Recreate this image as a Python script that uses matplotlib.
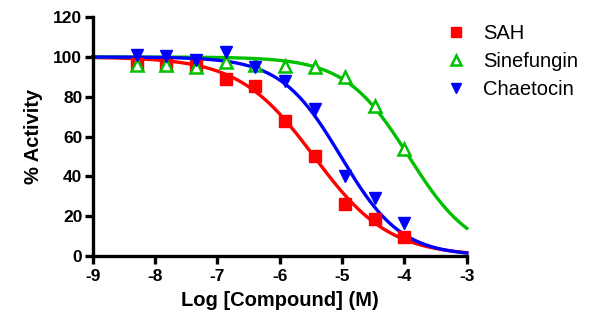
import numpy as np
import matplotlib
matplotlib.use("Agg")
import matplotlib.pyplot as plt

plt.rcParams['font.family'] = ['Liberation Sans', 'DejaVu Sans']

# Data (log molar concentrations, % activity)
log_conc = [-8.29, -7.82, -7.34, -6.86, -6.39, -5.91, -5.43, -4.95, -4.48, -4.00]
sah = [96.5, 96.0, 95.5, 88.9, 85.5, 67.8, 50.2, 26.0, 18.5, 9.8]
sinefungin = [96.0, 96.0, 95.0, 97.6, 96.0, 95.6, 95.0, 89.7, 75.4, 53.9]
chaetocin = [101.0, 100.7, 98.6, 102.7, 94.8, 88.0, 74.0, 40.0, 29.0, 16.5]

# Fitted 4-parameter logistic parameters: (bottom, top, logIC50, hill)
fit_sah = (0.0, 100.0, -5.45, 0.72)
fit_sine = (0.0, 100.0, -3.93, 0.85)
fit_chae = (0.0, 100.0, -5.02, 0.90)

series_names = ["SAH", "Sinefungin", "Chaetocin"]
xticks = [-9, -8, -7, -6, -5, -4, -3]
yticks = [0, 20, 40, 60, 80, 100, 120]


def logistic(x, p):
    b, t, ic, h = p
    return b + (t - b) / (1 + 10 ** ((x - ic) * h))


fig = plt.figure(figsize=(6, 3.3), dpi=100)
ax = fig.add_axes([0.1545, 0.2242, 0.6235, 0.7238])

xs = np.linspace(-9, -3, 400)
colors = ['#ff0000', '#00c000', '#0000ff']
fits = [fit_sah, fit_sine, fit_chae]
data = [sah, sinefungin, chaetocin]
markers = ['s', '^', 'v']
handles = []
for name, col, p, d, m in zip(series_names, colors, fits, data, markers):
    ax.plot(xs, logistic(xs, p), color=col, lw=2.4, zorder=2, clip_on=False)
    if m == '^':
        h = ax.plot(log_conc, d, linestyle='none', marker=m, ms=8, mfc='white',
                    mec=col, mew=1.8, zorder=3, label=name, clip_on=False)[0]
    else:
        h = ax.plot(log_conc, d, linestyle='none', marker=m, ms=8, color=col,
                    mec=col, zorder=3, label=name, clip_on=False)[0]
    handles.append(h)

ax.set_xlim(-9, -3)
ax.set_ylim(0, 120)
ax.set_xticks(xticks)
ax.set_yticks(yticks)
ax.set_xticklabels([str(t) for t in xticks], fontweight='bold', fontsize=12.5)
ax.set_yticklabels([str(t) for t in yticks], fontweight='bold', fontsize=12.5)
for s in ['top', 'right']:
    ax.spines[s].set_visible(False)
for s in ['left', 'bottom']:
    ax.spines[s].set_linewidth(2.4)
ax.tick_params(width=2.4, length=6, direction='out', pad=1.5)
ax.tick_params(axis='x', pad=3.5)
ax.set_xlabel("Log [Compound] (M)", fontweight='bold', fontsize=14.5, labelpad=5)
ax.set_ylabel("% Activity", fontweight='bold', fontsize=14.5, labelpad=7)

leg = fig.legend(handles=handles, loc='upper left', bbox_to_anchor=(446 / 600, 1 - 24 / 330),
                 frameon=False, fontsize=14.5, handlelength=1.0, handletextpad=0.85,
                 labelspacing=0.45, markerscale=0.85, borderpad=0, borderaxespad=0)

fig.savefig("out.png", dpi=100)
